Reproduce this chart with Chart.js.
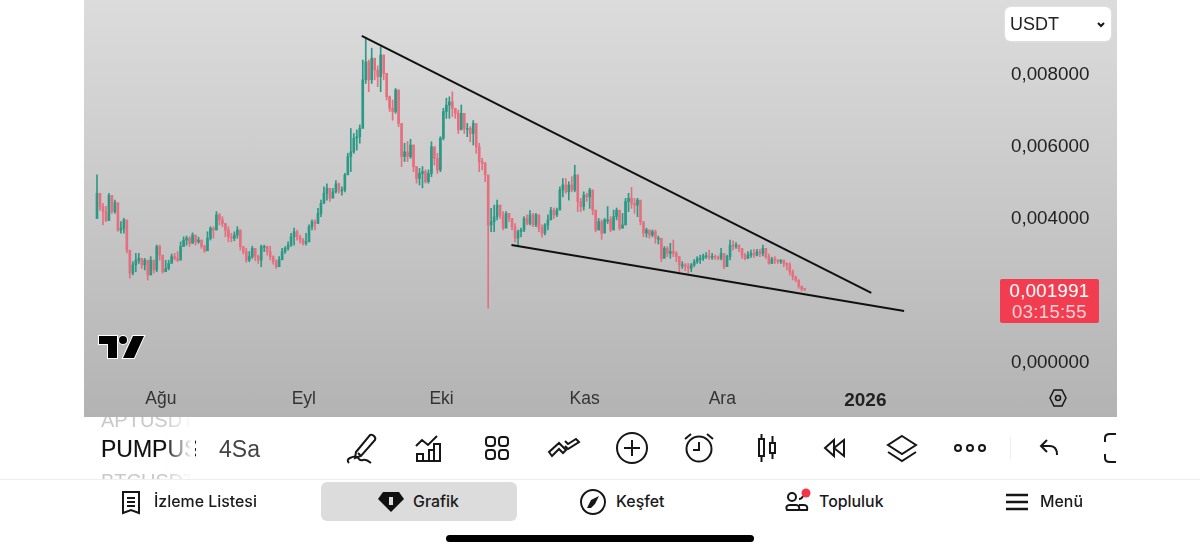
<!DOCTYPE html>
<html lang="tr">
<head>
<meta charset="utf-8">
<title>PUMPUSDT 4Sa</title>
<script src="https://cdn.jsdelivr.net/npm/chart.js@4/dist/chart.umd.min.js"></script>
<style>
  html, body { margin: 0; padding: 0; width: 1200px; height: 554px; overflow: hidden; background: #fff; font-family: "Liberation Sans", sans-serif; }
  .abs { position: absolute; }
  #panel { left: 84px; top: 0; width: 1033px; height: 417px; background: linear-gradient(#dcdcdc, #b3b3b3); }
  #chart { position: absolute; left: 0; top: 0; }
  #currency { left: 1005px; top: 7px; width: 106px; height: 34px; background: #fff; border-radius: 6px; font-size: 18px; line-height: 34px; color: #222; text-indent: 5px; box-shadow: 0 0 2px #eee; }
  #tag { left: 1000px; top: 279px; width: 99px; height: 44px; background: #f23c4f; border-radius: 2px; text-align: center; font-size: 18.5px; line-height: 21px; color: #fff; padding-top: 1px; box-sizing: border-box; letter-spacing: .35px; }
  #tag div + div { color: #fbd0d5; }
  .sym { left: 101px; width: 92px; overflow: hidden; white-space: nowrap; }
  #fade { left: 165px; top: 417px; width: 30px; height: 62px; background: linear-gradient(90deg, rgba(255,255,255,0), #fff 90%); }
  .nav { top: 492px; font-family: Inter, sans-serif; font-weight: 500; font-size: 15.9px; line-height: 20px; color: #1a1a1a; white-space: nowrap; }
  #pill { left: 321px; top: 482px; width: 196px; height: 39px; background: #dcdcdc; border-radius: 6px; }
  #home { left: 446px; top: 535px; width: 308px; height: 7px; background: #000; border-radius: 4px; }
  #line { left: 0; top: 479px; width: 1200px; height: 1px; background: #efefef; }
  svg.abs { fill: none; stroke: #161616; stroke-width: 2; overflow: visible; }
</style>
</head>
<body>
<div id="panel" class="abs"><canvas id="chart" width="1033" height="417"></canvas></div>

<div id="currency" class="abs">USDT</div>
<svg class="abs" style="left:1097px;top:22px;stroke-width:2" width="8" height="6"><path d="M1 1l3 3 3-3"/></svg>
<div id="tag" class="abs"><div>0,001991</div><div>03:15:55</div></div>

<svg class="abs" style="left:98px;top:335px;stroke:#fff;stroke-width:2;paint-order:stroke" width="48" height="26">
  <path fill="#000" d="M1 1H19V23H10V9H1Z"/><circle fill="#000" cx="25" cy="5" r="4"/><path fill="#000" d="M35 1H46L36 23H25Z"/>
</svg>

<div class="abs sym" style="top:408px;font-size:20px;line-height:24px;color:#c9c9c9;height:19px;clip-path:inset(9px 0 0 0)">APTUSDT</div>
<div class="abs sym" style="top:435px;width:95px;font-size:23px;line-height:28px;color:#111;-webkit-text-stroke:.15px #111">PUMPUSDT</div>
<div class="abs sym" style="top:469px;font-size:20px;line-height:24px;color:#c9c9c9;height:10px">BTCUSDT</div>
<div id="fade" class="abs"></div>
<div class="abs" style="left:219px;top:435px;font-size:23px;line-height:28px;color:#444">4Sa</div>

<!-- toolbar icons -->
<svg class="abs" style="left:346px;top:432px" width="32" height="32"><path d="M10 20L24 3q2-1 4 1t1 4L15 24l-6 2zM12 21l3 3M3 31q-3-3 1-5 6-3 8 0t5 2 8 3"/></svg>
<svg class="abs" style="left:415px;top:434px" width="28" height="28"><path d="M1 12l6-6 6 5 9-9M2 27v-7h6v7zM8 27v-7M14 27V16h5v11M19 27V10h6v17M1 27h25"/></svg>
<svg class="abs" style="left:485px;top:436px" width="24" height="24"><rect x="1" y="1" width="9" height="9" rx="3"/><rect x="14" y="1" width="9" height="9" rx="3"/><rect x="1" y="14" width="9" height="9" rx="3"/><rect x="14" y="14" width="9" height="9" rx="3"/></svg>
<svg class="abs" style="left:548px;top:438px" width="32" height="20"><path d="M1 14l10-9 7 7-3 3-4-4-7 7zM17 8l3 3 11-7-3-3-8 5-3-3"/></svg>
<svg class="abs" style="left:616px;top:432px" width="32" height="32"><circle cx="16" cy="16" r="15"/><path d="M16 8v16M8 16h16"/></svg>
<svg class="abs" style="left:684px;top:433px" width="30" height="30"><circle cx="15" cy="16" r="12.5"/><path d="M15 9v8h-6M1 6l6-5M29 6l-6-5"/></svg>
<svg class="abs" style="left:758px;top:434px" width="18" height="28"><rect x="1" y="5" width="5" height="17"/><rect x="12" y="9" width="5" height="10"/><path d="M3.5 0v5M3.5 22v6M14.500 2v7M14.500 19v6"/></svg>
<svg class="abs" style="left:823px;top:439px" width="22" height="18"><path d="M11 1L2 9l9 8zM21 1l-10 8 10 8z"/></svg>
<svg class="abs" style="left:886px;top:435px" width="32" height="27"><path d="M16 1l14 9-14 9-14-9zM2 17l14 9 14-9"/></svg>
<svg class="abs" style="left:954px;top:442px" width="32" height="12"><circle cx="4" cy="6" r="3"/><circle cx="16" cy="6" r="3"/><circle cx="28" cy="6" r="3"/></svg>
<div class="abs" style="left:1010px;top:437px;width:1px;height:22px;background:#eee"></div>
<svg class="abs" style="left:1039px;top:439px" width="20" height="18"><path d="M8 1L2 7l6 6M2 7h9q7 0 7 9"/></svg>
<svg class="abs" style="left:1102px;top:433px" width="15" height="30"><path d="M14 1H8Q3 1 3 5v4M14 29H8q-5 0-5-4v-4"/></svg>
<svg class="abs" style="left:1049px;top:389px;stroke-width:1.5" width="18" height="18"><path d="M5 1h8l4 8-4 8H5L1 9z"/><circle cx="9" cy="9" r="2.500"/></svg>
<div id="line" class="abs"></div>

<!-- bottom nav -->
<div id="pill" class="abs"></div>
<svg class="abs" style="left:121px;top:491px" width="20" height="24"><path d="M2 1h16v21l-8-3-8 3zM6 7h8M6 11h8M6 15h8"/></svg>
<div class="abs nav" style="left:154px">İzleme Listesi</div>
<svg class="abs" style="left:377px;top:491px;stroke:none" width="28" height="22"><path fill="#111" d="M6 1h16l5 7-13 13L1 8z"/><rect fill="#ddd" x="12" y="6" width="4" height="8"/></svg>
<div class="abs nav" style="left:413px">Grafik</div>
<svg class="abs" style="left:580px;top:489px" width="26" height="26"><circle cx="13" cy="13" r="12"/><path fill="#161616" stroke="none" d="M19 7l-4 8-4 4-4 0 4-8z"/></svg>
<div class="abs nav" style="left:616px">Keşfet</div>
<svg class="abs" style="left:785px;top:492px" width="24" height="20"><circle cx="7" cy="5" r="4"/><path d="M14 7q3 0 4-3M2 18q-2-5 3-5h6q4 0 3 5zM14 13h5q4 0 3 5h-7"/></svg>
<svg class="abs" style="left:801px;top:488px;stroke:none" width="10" height="10"><circle fill="#f23645" cx="5" cy="5" r="4.500"/></svg>
<div class="abs nav" style="left:819px">Topluluk</div>
<svg class="abs" style="left:1006px;top:493px;stroke-width:2.5" width="22" height="18"><path d="M0 2h22M0 9h22M0 16h22"/></svg>
<div class="abs nav" style="left:1040px">Menü</div>
<div id="home" class="abs"></div>

<script>
// prices are in thousandths of USDT, one candle per list position
const candleCloses = [
  4.66,4.29,4.15,3.9,4.6,4.15,4.4,3.64,3.68,3.92,
  3.08,2.44,2.67,2.8,2.85,2.67,2.8,2.39,2.8,2.53,
  3.18,2.94,2.48,2.57,2.71,2.9,2.85,2.8,3.18,3.36,
  3.41,3.27,3.5,3.31,3.36,3.18,3.06,3.41,3.69,3.64,
  4.06,3.92,3.82,3.64,3.45,3.41,3.5,3.64,3.18,3.04,
  2.8,2.9,3.13,2.9,2.8,3.18,3.18,3.04,2.9,2.76,
  2.62,2.81,3.04,3.13,3.22,3.45,3.59,3.45,3.36,3.27,
  3.31,3.73,3.87,3.82,4.1,4.38,4.66,4.8,4.52,4.7,
  4.92,4.75,4.75,5.17,5.68,5.81,6.19,6.23,6.46,7.81,
  8.31,7.81,8.41,8.08,7.9,8.5,7.99,7.34,7.02,6.93,
  7.53,6.6,5.68,5.81,5.68,6,5.4,5.07,5.21,5.26,
  4.98,5.21,5.95,5.63,5.31,6.19,6.93,7.11,7.2,7.02,
  6.88,6.42,6.88,6.46,6.46,6.32,6.6,5.95,5.54,5.49,
  5.17,3.78,3.87,4.01,4.33,4.06,3.69,4.1,3.96,3.73,
  3.41,3.59,3.64,3.96,3.82,4.06,3.78,4.06,3.69,3.55,
  3.78,3.92,4.19,4.06,4.19,4.75,4.89,4.7,4.89,4.75,
  5.17,4.43,4.29,4.61,4.56,4.75,4.19,3.64,3.87,3.55,
  3.92,3.92,3.64,4.01,4.19,3.69,3.78,4.43,4.52,4.38,
  4.33,4.47,3.87,3.55,3.64,3.5,3.59,3.41,3.41,2.85,
  3.13,2.99,3.04,2.99,2.9,2.67,2.67,2.62,2.57,2.67,
  2.76,2.85,2.85,2.92,2.92,2.88,2.9,2.88,2.85,2.99,
  2.62,2.9,3.22,3.18,3.22,3.13,2.94,2.85,2.94,2.99,
  2.94,3.04,2.99,3.13,2.9,2.71,2.82,2.81,2.76,2.79,
  2.71,2.67,2.48,2.34,2.25,2.08,2,1.991,
];
const candleHighs = [
  5.17,4.66,4.38,4.3,4.66,4.47,4.47,4.15,3.87,3.96,
  3.64,2.9,2.76,2.99,2.99,2.85,2.85,2.8,2.9,2.8,
  3.22,3.22,2.94,2.8,2.8,2.97,2.99,3.04,3.31,3.45,
  3.47,3.45,3.56,3.41,3.44,3.36,3.22,3.59,3.73,3.73,
  4.15,4.1,4.01,3.82,3.73,3.55,3.59,3.73,3.64,3.18,
  3.13,3.04,3.19,3.08,2.94,3.22,3.22,3.19,3.19,2.92,
  2.81,2.9,3.13,3.18,3.31,3.55,3.69,3.64,3.5,3.41,
  3.55,3.78,3.92,3.92,4.24,4.47,4.84,4.92,4.75,4.8,
  5.01,4.94,4.84,5.21,5.77,6.46,6.32,6.42,6.56,8.36,
  8.96,8.36,8.69,8.41,8.2,8.73,8.5,7.99,7.36,7.25,
  7.57,7.53,6.51,6.05,6.1,6.16,6,5.4,5.35,5.4,
  5.31,5.31,6.09,5.95,5.77,6.23,7.02,7.3,7.34,7.48,
  7.02,6.97,7.11,6.88,6.6,6.51,6.68,6.23,6.05,5.63,
  5.52,5.03,4.24,4.33,4.47,4.33,4.15,4.15,4.1,3.96,
  3.82,3.64,3.69,4.01,4.06,4.18,4.1,4.1,4.06,3.78,
  3.82,4.06,4.27,4.25,4.25,4.84,5.07,5.07,4.98,5.12,
  5.44,5.17,4.52,4.7,4.66,4.8,4.75,4.19,3.96,3.92,
  3.96,4.29,4.01,4.19,4.25,4.1,4.1,4.52,4.66,4.82,
  4.52,4.52,4.06,3.82,3.69,3.64,3.64,3.64,3.47,3.36,
  3.18,3.18,3.27,3.36,3.04,2.9,2.76,2.71,2.71,2.71,
  2.82,2.9,2.94,2.97,3.01,3.08,2.99,2.94,2.92,3.13,
  2.81,2.94,3.36,3.34,3.29,3.22,3.13,2.99,3.04,3.08,
  3.1,3.1,3.1,3.22,3.08,2.97,2.88,2.9,2.81,2.82,
  2.81,2.73,2.73,2.53,2.36,2.25,2.08,2.02,
];
const candleLows = [
  3.96,4.19,3.78,3.87,4.2,4.1,4.1,3.6,3.55,3.55,
  3,2.3,2.39,2.48,2.71,2.57,2.53,2.25,2.39,2.44,
  2.48,2.8,2.44,2.48,2.53,2.76,2.8,2.76,2.9,3.18,
  3.22,3.18,3.27,3.22,3.27,3.13,3.02,3.08,3.36,3.41,
  3.64,3.78,3.73,3.45,3.31,3.31,3.34,3.41,3.08,2.97,
  2.74,2.76,2.85,2.79,2.71,2.62,3.04,2.94,2.81,2.69,
  2.57,2.71,2.85,2.99,3.08,3.18,3.22,3.36,3.27,3.22,
  3.22,3.5,3.64,3.64,3.82,4.01,4.38,4.47,4.43,4.61,
  4.66,4.66,4.61,4.7,5.21,5.26,5.77,5.86,6.05,6.69,
  7.71,7.48,7.71,7.81,7.62,7.48,7.81,7.25,6.93,6.69,
  6.88,6.51,5.4,5.54,5.54,5.63,5.26,4.94,4.89,4.81,
  4.94,4.94,5.12,5.44,5.21,5.26,6.14,6.74,6.74,6.79,
  6.74,6.32,6.56,6.32,6.23,6.09,6,5.77,5.26,5.31,
  4.98,1.47,3.59,3.59,3.92,3.96,3.64,3.73,3.87,3.64,
  3.31,3.22,3.45,3.59,3.78,3.78,3.73,3.73,3.59,3.44,
  3.5,3.64,3.92,3.96,4.01,4.29,4.56,4.66,4.47,4.7,
  4.7,4.15,4.15,4.19,4.43,4.24,4.06,3.59,3.64,3.38,
  3.59,3.82,3.59,3.64,3.92,3.64,3.69,3.78,4.15,4.24,
  4.1,4.01,3.78,3.45,3.44,3.41,3.45,3.27,3.25,2.76,
  2.9,2.9,2.85,2.9,2.76,2.48,2.57,2.51,2.44,2.48,
  2.62,2.71,2.71,2.79,2.85,2.82,2.82,2.82,2.81,2.81,
  2.56,2.67,2.81,3.08,3.13,3.04,2.85,2.81,2.85,2.88,
  2.88,2.92,2.9,2.92,2.85,2.69,2.71,2.71,2.71,2.71,
  2.62,2.53,2.39,2.25,2.2,2.02,1.95,1.95,
];
const firstOpen = 3.96;

const xTickPositions = [21.4, 69.25, 115.4, 163.3, 209.4, 257.3];
const xTickLabels = ["Ağu", "Eyl", "Eki", "Kas", "Ara", "2026"];
const yTickValues = [0, 4, 6, 8];

// hand drawn trend lines, in candle position / price
const upperTrendX = [88.66, 259.3];
const upperTrendY = [9.03, 1.89];
const lowerTrendX = [138.8, 270.3];
const lowerTrendY = [3.22, 1.39];

const GREEN = "#2a9a86";
const RED = "#e56f7f";

const candleOpens = [firstOpen, ...candleCloses.slice(0, -1)];
const candleColors = candleCloses.map((c, i) => (c >= candleOpens[i] ? GREEN : RED));

function formatPrice(value) {
  return (value / 1000).toFixed(6).replace(".", ",");
}

function zipTrend(xs, ys) {
  return xs.map((x, i) => ({ x, y: ys[i] }));
}

const wicks = candleCloses.map((_, i) => ({ x: i, y: [candleLows[i], candleHighs[i]] }));
const bodies = candleCloses.map((c, i) => ({ x: i, y: [candleOpens[i], c] }));

new Chart(document.getElementById("chart"), {
  type: "bar",
  data: {
    datasets: [
      { data: wicks, backgroundColor: candleColors, barThickness: 1, grouped: false, order: 3 },
      { data: bodies, backgroundColor: candleColors, barThickness: 2, grouped: false, minBarLength: 1, order: 2 },
      { type: "line", data: zipTrend(upperTrendX, upperTrendY), borderColor: "#111", borderWidth: 2, pointRadius: 0, order: 1 },
      { type: "line", data: zipTrend(lowerTrendX, lowerTrendY), borderColor: "#111", borderWidth: 2, pointRadius: 0, order: 1 },
    ],
  },
  options: {
    responsive: false,
    animation: false,
    devicePixelRatio: 1,
    layout: { padding: 0, autoPadding: false },
    plugins: { legend: { display: false }, tooltip: { enabled: false } },
    scales: {
      x: {
        type: "linear",
        min: -4.35,
        max: 302.4,
        offset: false,
        grid: { display: false, drawTicks: false },
        border: { display: false },
        afterBuildTicks: (scale) => {
          scale.ticks = xTickPositions.map((value) => ({ value }));
        },
        afterFit: (scale) => {
          scale.height = 39;
          scale.paddingLeft = 0;
          scale.paddingRight = 0;
        },
        ticks: {
          autoSkip: false,
          maxRotation: 0,
          padding: 11,
          color: (ctx) => (ctx.index === 5 ? "#222" : "#333"),
          font: (ctx) => (ctx.index === 5
            ? { family: "Liberation Sans", size: 19, weight: "bold" }
            : { family: "Liberation Sans", size: 17.5 }),
          callback: (value, i) => xTickLabels[i],
        },
      },
      y: {
        position: "right",
        min: -0.472,
        max: 10.028,
        grid: { display: false, drawTicks: false },
        border: { display: false },
        afterBuildTicks: (scale) => {
          scale.ticks = yTickValues.map((value) => ({ value }));
        },
        afterFit: (scale) => {
          scale.width = 117;
          scale.paddingTop = 0;
          scale.paddingBottom = 0;
        },
        ticks: {
          padding: 11,
          labelOffset: 1.5,
          color: "#222",
          font: { family: "Liberation Sans", size: 18.8 },
          callback: (value) => formatPrice(value),
        },
      },
    },
  },
});
</script>
</body>
</html>
